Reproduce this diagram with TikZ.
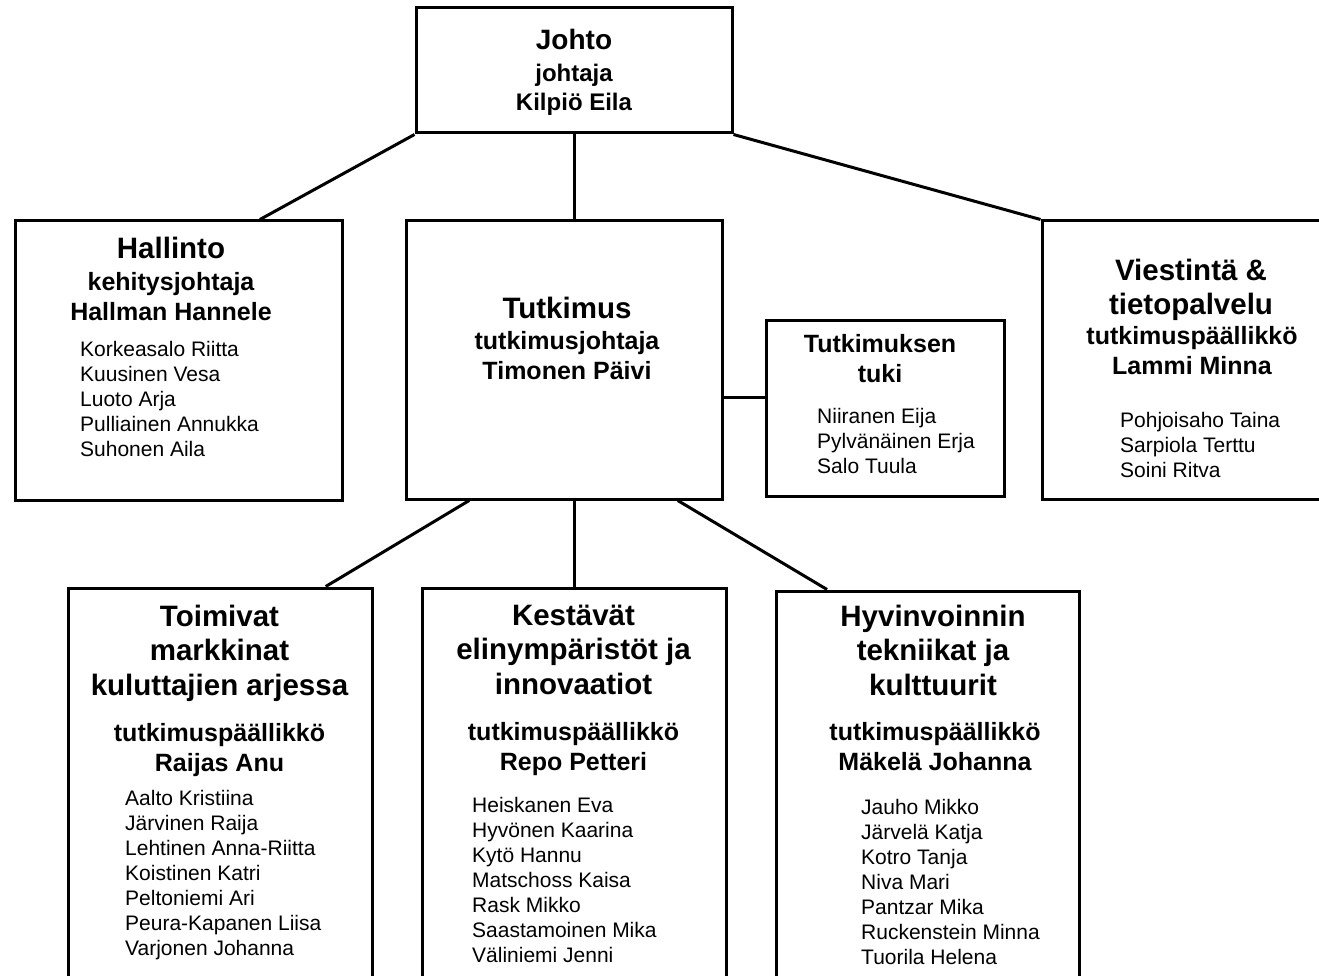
\documentclass[tikz,border=0pt]{standalone}
\usepackage{fontspec}
\setmainfont{Liberation Sans}
\usetikzlibrary{calc}
\tikzset{yksikko/.style = {shape=rectangle, draw, line width=3pt, inner sep=0pt}}
\tikzset{otsikko/.style = {anchor=north, align=center, inner sep=0pt, font=\bfseries\fontsize{29.5}{34.5}\selectfont}}
\tikzset{alaotsikko/.style = {anchor=north, align=center, inner sep=0pt, font=\bfseries\fontsize{25}{30}\selectfont}}
\tikzset{nimet/.style = {anchor=north west, align=left, inner sep=0pt, font=\fontsize{21}{25}\selectfont}}
\tikzset{viiva/.style = {line width=3pt}}

\begin{document}
\begin{tikzpicture}[x=1pt, y=-1pt]
  \clip (0,0) rectangle (1319,976);

  \node[yksikko, minimum width=316pt, minimum height=125pt] (johto) at (574,70.5) {};
  \node[yksikko, minimum width=327pt, minimum height=279pt] (hallinto) at (178.5,360.5) {};
  \node[yksikko, minimum width=316pt, minimum height=278pt] (tutkimus) at (564,360) {};
  \node[yksikko, minimum width=238pt, minimum height=176pt] (tuki) at (885,408) {};
  \node[yksikko, minimum width=300pt, minimum height=278pt] (viestinta) at (1192,360) {};
  \node[yksikko, minimum width=304pt, minimum height=412pt] (toimivat) at (220,794) {};
  \node[yksikko, minimum width=304pt, minimum height=412pt] (kestavat) at (574,794) {};
  \node[yksikko, minimum width=303pt, minimum height=409pt] (hyvinvointi) at (927.5,795.5) {};

  \draw[viiva] (johto.south west) -- (hallinto.60);
  \draw[viiva] (johto.south) -- (johto.south |- tutkimus.north);
  \draw[viiva] (johto.south east) -- (viestinta.north west);
  \draw[viiva] (tuki.175) -- (tuki.175 -| tutkimus.east);
  \draw[viiva] (tutkimus.236.5) -- (toimivat.63.7);
  \draw[viiva] (kestavat.north |- tutkimus.south) -- (kestavat.north);
  \draw[viiva] (tutkimus.309.1) -- (hyvinvointi.116.6);

  \node[otsikko, font=\bfseries\fontsize{28}{33}\selectfont] (johto-o) at (574,29) {Johto};
  \node[alaotsikko, font=\bfseries\fontsize{24}{29}\selectfont] (johto-a) at (574,63.5) {johtaja\\Kilpiö Eila};

  \node[otsikko] (hallinto-o) at (171,236.5) {Hallinto};
  \node[alaotsikko] (hallinto-a) at (171,272.5) {kehitysjohtaja\\Hallman Hannele};
  \node[nimet] (hallinto-n) at (80,341) {Korkeasalo Riitta\\Kuusinen Vesa\\Luoto Arja\\Pulliainen Annukka\\Suhonen Aila};

  \node[otsikko] (tutkimus-o) at (567,296.5) {Tutkimus};
  \node[alaotsikko] (tutkimus-a) at (567,331.5) {tutkimusjohtaja\\Timonen Päivi};

  \node[alaotsikko] (tuki-o) at (880,334.5) {Tutkimuksen\\tuki};
  \node[nimet] (tuki-n) at (817,408) {Niiranen Eija\\Pylvänäinen Erja\\Salo Tuula};

  \node[otsikko] (viestinta-o) at (1191,258.5) {Viestintä \&\\tietopalvelu};
  \node[alaotsikko] (viestinta-a) at (1192,326.5) {tutkimuspäällikkö\\Lammi Minna};
  \node[nimet] (viestinta-n) at (1120,412) {Pohjoisaho Taina\\Sarpiola Terttu\\Soini Ritva};

  \node[otsikko] (toimivat-o) at (219.5,604.5) {Toimivat\\markkinat\\kuluttajien arjessa};
  \node[alaotsikko] (toimivat-a) at (219.5,723.5) {tutkimuspäällikkö\\Raijas Anu};
  \node[nimet] (toimivat-n) at (125,790) {Aalto Kristiina\\Järvinen Raija\\Lehtinen Anna-Riitta\\Koistinen Katri\\Peltoniemi Ari\\Peura-Kapanen Liisa\\Varjonen Johanna};

  \node[otsikko] (kestavat-o) at (573.5,604.5) {Kestävät\\elinympäristöt ja\\innovaatiot};
  \node[alaotsikko] (kestavat-a) at (573.5,722.5) {tutkimuspäällikkö\\Repo Petteri};
  \node[nimet] (kestavat-n) at (472,797) {Heiskanen Eva\\Hyvönen Kaarina\\Kytö Hannu\\Matschoss Kaisa\\Rask Mikko\\Saastamoinen Mika\\Väliniemi Jenni};

  \node[otsikko] (hyvinvointi-o) at (933,604.5) {Hyvinvoinnin\\tekniikat ja\\kulttuurit};
  \node[alaotsikko] (hyvinvointi-a) at (935,722.5) {tutkimuspäällikkö\\Mäkelä Johanna};
  \node[nimet] (hyvinvointi-n) at (861,799) {Jauho Mikko\\Järvelä Katja\\Kotro Tanja\\Niva Mari\\Pantzar Mika\\Ruckenstein Minna\\Tuorila Helena};
\end{tikzpicture}
\end{document}
